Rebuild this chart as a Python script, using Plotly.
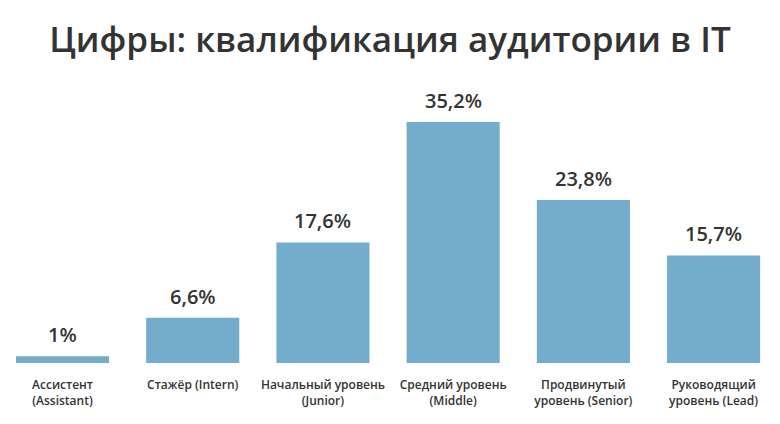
import plotly.graph_objects as go

categories = [
    "Ассистент<br>(Assistant)",
    "Стажёр (Intern)",
    "Начальный уровень<br>(Junior)",
    "Средний уровень<br>(Middle)",
    "Продвинутый<br>уровень (Senior)",
    "Руководящий<br>уровень (Lead)",
]
values = [1.0, 6.6, 17.6, 35.2, 23.8, 15.7]
title_text = "Цифры: квалификация аудитории в IT"

labels = [f"{v:g}".replace(".", ",") + "%" for v in values]
xs = list(range(len(categories)))

FONT = "Open Sans"
fig = go.Figure(go.Bar(
    x=xs, y=values, marker=dict(color="#74ADCB", line=dict(width=0)),
    width=0.715, hoverinfo="skip",
))

for x, v, lab in zip(xs, values, labels):
    fig.add_annotation(x=x, y=v, text=lab, showarrow=False, yanchor="bottom",
                       yshift=6, font=dict(family=FONT, size=20, color="#333333", weight=600))

fig.update_layout(
    width=780, height=424,
    margin=dict(l=0, r=0, t=89, b=61),
    paper_bgcolor="white", plot_bgcolor="white",
    title=dict(text=title_text, x=0.5, xanchor="center", y=0.907, yanchor="middle",
               font=dict(family=FONT, size=35, color="#333333", weight=600)),
    showlegend=False,
    xaxis=dict(tickmode="array", tickvals=xs, ticktext=categories, range=[-0.48, 5.51],
               showgrid=False, zeroline=False, showline=False, ticks="",
               ticklabelstandoff=13,
               tickfont=dict(family=FONT, size=12, color="#333333", weight=600)),
    yaxis=dict(range=[0, 40], visible=False, showgrid=False, zeroline=False),
)

fig.write_html("out.html")
